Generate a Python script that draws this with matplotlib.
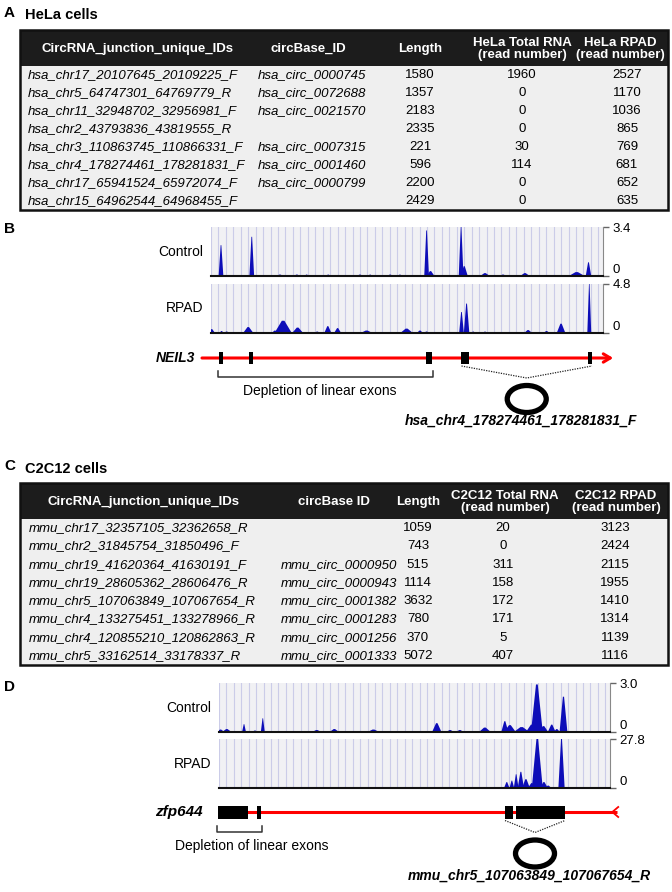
import matplotlib
matplotlib.use("Agg")
import matplotlib.pyplot as plt
from matplotlib import font_manager
from matplotlib.patches import Rectangle, Ellipse
from matplotlib.ticker import MultipleLocator

W, H = 672, 892
plt.rcParams['font.family'] = ['Liberation Sans', 'DejaVu Sans']
BLUE = '#0d0db8'

# the tables use a condensed face if one is there
have_narrow = any(f.name == 'Liberation Sans Narrow' for f in font_manager.fontManager.ttflist)
TAB_FONT = ['Liberation Sans Narrow', 'DejaVu Sans'] if have_narrow else ['Liberation Sans', 'DejaVu Sans']
TAB_SIZE = 10.8 if have_narrow else 9.5

# ---------------- Panel A table (HeLa)
hela_header = ['CircRNA_junction_unique_IDs', 'circBase_ID', 'Length',
               'HeLa Total RNA\n(read number)', 'HeLa RPAD\n(read number)']
hela_ids = ['hsa_chr17_20107645_20109225_F', 'hsa_chr5_64747301_64769779_R',
            'hsa_chr11_32948702_32956981_F', 'hsa_chr2_43793836_43819555_R',
            'hsa_chr3_110863745_110866331_F', 'hsa_chr4_178274461_178281831_F',
            'hsa_chr17_65941524_65972074_F', 'hsa_chr15_64962544_64968455_F']
hela_circbase = ['hsa_circ_0000745', 'hsa_circ_0072688', 'hsa_circ_0021570', '',
                 'hsa_circ_0007315', 'hsa_circ_0001460', 'hsa_circ_0000799', '']
hela_length = [1580, 1357, 2183, 2335, 221, 596, 2200, 2429]
hela_total = [1960, 0, 0, 0, 30, 114, 0, 0]
hela_rpad = [2527, 1170, 1036, 865, 769, 681, 652, 635]

# ---------------- Panel C table (C2C12)
c2c12_header = ['CircRNA_junction_unique_IDs', 'circBase ID', 'Length',
                'C2C12 Total RNA\n(read number)', 'C2C12 RPAD\n(read number)']
c2c12_ids = ['mmu_chr17_32357105_32362658_R', 'mmu_chr2_31845754_31850496_F',
             'mmu_chr19_41620364_41630191_F', 'mmu_chr19_28605362_28606476_R',
             'mmu_chr5_107063849_107067654_R', 'mmu_chr4_133275451_133278966_R',
             'mmu_chr4_120855210_120862863_R', 'mmu_chr5_33162514_33178337_R']
c2c12_circbase = ['', '', 'mmu_circ_0000950', 'mmu_circ_0000943', 'mmu_circ_0001382',
                  'mmu_circ_0001283', 'mmu_circ_0001256', 'mmu_circ_0001333']
c2c12_length = [1059, 743, 515, 1114, 3632, 780, 370, 5072]
c2c12_total = [20, 0, 311, 158, 172, 171, 5, 407]
c2c12_rpad = [3123, 2424, 2115, 1955, 1410, 1314, 1139, 1116]

# ---------------- Panel B coverage (position in % of locus, height, half width)
neil3_ctrl_pos = [2.55, 10.4, 55.0, 56.0, 63.8, 64.6, 4.6, 17.6, 21.9, 24.4, 29.9, 38.0,
                  40.6, 45.7, 48.2, 69.9, 74.5, 80.1, 87.3, 93.3, 96.3]
neil3_ctrl_val = [2.14, 2.72, 3.16, 0.34, 3.40, 0.68, 0.07, 0.10, 0.10, 0.10, 0.10, 0.10,
                  0.10, 0.10, 0.10, 0.20, 0.10, 0.20, 0.07, 0.27, 0.95]
neil3_ctrl_hw = [0.6, 0.6, 0.6, 1.0, 0.6, 0.9, 0.8, 0.9, 0.8, 0.6, 0.6, 0.8,
                 0.6, 0.8, 0.6, 1.2, 0.9, 1.2, 0.8, 2.0, 0.7]
neil3_rpad_pos = [0.2, 2.7, 4.0, 9.5, 16.3, 18.4, 22.1, 27.1, 29.8, 32.3, 39.7, 49.9,
                  53.3, 55.0, 63.9, 65.2, 66.9, 69.9, 80.9, 85.6, 89.3, 96.5]
neil3_rpad_val = [0.38, 0.19, 0.14, 0.58, 0.24, 1.20, 0.53, 0.14, 0.67, 0.48, 0.24, 0.43,
                  0.24, 0.14, 2.06, 2.88, 0.14, 0.14, 0.29, 0.19, 0.91, 4.80]
neil3_rpad_hw = [0.8, 0.6, 0.8, 1.3, 0.8, 2.2, 1.4, 0.8, 0.9, 0.9, 1.5, 1.6,
                 0.8, 0.8, 0.6, 0.7, 0.6, 0.6, 1.0, 0.8, 1.1, 0.5]
neil3_scale = [3.4, 4.8]
neil3_exon_start = [2.04, 9.69, 54.97, 63.9, 96.17]
neil3_exon_end = [3.06, 10.71, 56.25, 65.7, 97.19]
neil3_span = [-2.3, 102.6]
neil3_depleted = [0, 2]
neil3_circ = [3, 4]

# ---------------- Panel D coverage
zfp_ctrl_pos = [0.4, 2.0, 6.4, 9.2, 11.2, 25.0, 29.5, 39.5, 46.3, 55.7, 59.1, 61.6, 68.0,
                73.1, 74.4, 77.4, 80.0, 81.3, 83.0, 85.1, 86.4, 88.1, 93.1, 97.4]
zfp_ctrl_val = [0.15, 0.18, 0.48, 0.09, 0.84, 0.12, 0.18, 0.15, 0.06, 0.54, 0.12, 0.12, 0.27,
                0.66, 0.42, 0.30, 0.45, 2.91, 0.36, 0.45, 0.18, 2.16, 0.06, 0.06]
zfp_ctrl_hw = [1.0, 1.2, 0.5, 0.8, 0.5, 1.2, 1.2, 1.5, 1.0, 1.2, 1.0, 1.0, 1.5,
               0.9, 1.5, 2.0, 1.5, 1.5, 1.2, 1.0, 0.8, 1.0, 1.0, 1.0]
zfp_rpad_pos = [5.8, 11.2, 26.1, 73.6, 74.9, 76.0, 77.2, 78.5, 80.0, 81.4, 83.1, 84.2, 87.6, 92.3]
zfp_rpad_val = [0.28, 0.28, 0.56, 3.34, 4.17, 7.78, 9.17, 5.0, 2.78, 27.8, 3.34, 1.39, 27.8, 0.56]
zfp_rpad_hw = [0.8, 0.6, 0.8, 0.7, 0.6, 0.6, 0.8, 1.0, 1.0, 1.4, 1.0, 0.8, 0.8, 0.8]
zfp_scale = [3.0, 27.8]
zfp_exon_start = [-0.26, 9.72, 73.15, 75.96]
zfp_exon_end = [7.42, 10.74, 75.19, 88.49]
zfp_span = [-0.26, 101.8]
zfp_depleted = [0, 1]
zfp_circ = [2, 3]

fig = plt.figure(figsize=(W / 100, H / 100), dpi=100)


def px_axes(left, top, width, height):
    return fig.add_axes([left / W, 1 - (top + height) / H, width / W, height / H])


def px_text(x, y, s, **kw):
    fig.text(x / W, 1 - y / H, s, **kw)


def draw_table(top, bottom, header, ids, circbase, length, total, rpad, xs):
    ax = px_axes(20, top, 648, bottom - top)
    ax.set_xlim(20, 668)
    ax.set_ylim(bottom, top)
    ax.axis('off')
    head_bot = top + 36
    row_h = (bottom - head_bot) / len(ids)
    ax.add_patch(Rectangle((20, head_bot), 648, bottom - head_bot, fc='#efefef', ec='none'))
    ax.add_patch(Rectangle((20, top), 648, head_bot - top, fc='#1c1c1c', ec='none'))
    ax.add_patch(Rectangle((20, top), 648, bottom - top, fc='none', ec='#111111', lw=1.8,
                           clip_on=False))
    kw = dict(family=TAB_FONT, fontsize=TAB_SIZE, va='center')
    for x, h in zip(xs['head'], header):
        ax.text(x, (top + head_bot) / 2 + 1, h, color='white', fontweight='bold',
                ha='center', linespacing=1.0, **kw)
    for i in range(len(ids)):
        y = head_bot + (i + 0.5) * row_h
        ax.text(xs['id'], y, ids[i], style='italic', ha='left', **kw)
        ax.text(xs['cb'], y, circbase[i], style='italic', ha='left', **kw)
        ax.text(xs['len'], y, str(length[i]), ha='center', **kw)
        ax.text(xs['tot'], y, str(total[i]), ha='center', **kw)
        ax.text(xs['rpad'], y, str(rpad[i]), ha='center', **kw)


def draw_track(left, top, width, height, pos, val, hw, ymax, label):
    ax = px_axes(left, top, width, height)
    ax.set_facecolor('#f1f1f4')
    for c, v, w in zip(pos, val, hw):
        ax.fill([c - w, c - w * 0.15, c + w * 0.15, c + w], [0, v, v, 0], color=BLUE, lw=0)
    ax.set_xlim(0, 100)
    ax.set_ylim(0, ymax)
    ax.xaxis.set_major_locator(MultipleLocator(1.9))
    ax.grid(axis='x', color='#cbcce8', lw=0.8)
    ax.set_axisbelow(True)
    ax.tick_params(axis='x', length=0, labelbottom=False)
    ax.yaxis.tick_right()
    ax.set_yticks([0, ymax])
    ax.set_yticklabels(['0', f'{ymax:.1f}'])
    ax.tick_params(axis='y', length=4, width=1, color='#666666', labelsize=9.5, pad=3)
    ax.get_yticklabels()[0].set_va('bottom')
    for s in ['left', 'top']:
        ax.spines[s].set_visible(False)
    ax.spines['right'].set_color('#888888')
    ax.spines['bottom'].set_color('#111111')
    ax.spines['bottom'].set_linewidth(1.5)
    px_text(left - 8, top + height / 2, label, fontsize=10, ha='right', va='center')


def draw_gene(left, width, top, bottom, y, name, starts, ends, span, depleted, circ,
              arrow_right, text_dx, label_circ, ex_h, name_size):
    ax = px_axes(left, top, width, bottom - top)
    ax.set_xlim(0, 100)
    ax.set_ylim(bottom, top)
    ax.axis('off')
    if arrow_right:
        ax.annotate('', xy=(span[1], y), xytext=(span[0], y), annotation_clip=False,
                    arrowprops=dict(arrowstyle='->,head_length=0.5,head_width=0.3',
                                    color='#ff0000', lw=2.2, shrinkA=0, shrinkB=0))
    else:
        ax.plot(span, [y, y], color='#ff0000', lw=2.2, solid_capstyle='butt', clip_on=False)
        ax.plot([span[1] + 0.3, span[1] - 1.2, span[1] + 0.3], [y - 5, y, y + 5],
                color='#ff0000', lw=1.3, clip_on=False)
    for s, e in zip(starts, ends):
        ax.add_patch(Rectangle((s, y - ex_h / 2), e - s, ex_h, fc='black', ec='none',
                               clip_on=False, zorder=3))
    b0 = starts[depleted[0]] - 0.3
    b1 = ends[depleted[1]] + 0.3
    yb = y + ex_h / 2 + 13
    ax.plot([b0, b0, b1, b1], [yb - 6, yb, yb, yb - 6], color='#333333', lw=1.1,
            clip_on=False)
    ax.text((b0 + b1) / 2 + text_dx, yb + 14, 'Depletion of linear exons', fontsize=10,
            ha='center', va='center')
    c0 = starts[circ[0]]
    c1 = ends[circ[1]]
    cm = (c0 + c1) / 2
    ax.plot([c0, cm, c1], [y + ex_h / 2 + 2, yb + 1, y + ex_h / 2 + 2], color='#222222',
            lw=0.9, ls=(0, (1, 1)), clip_on=False)
    ax.add_patch(Ellipse((cm, yb + 22), 39 / width * 100, 27, fc='none', ec='black',
                         lw=3.8, clip_on=False))
    ax.text(cm - 1.5, yb + 44, label_circ, fontsize=10, fontweight='bold', style='italic',
            ha='center', va='center')
    px_text(left - 16, y, name, fontsize=name_size, fontweight='bold', style='italic',
            ha='right', va='center')


# Panel A
px_text(4, 13, 'A', fontsize=11, fontweight='bold', ha='left', va='center')
px_text(25, 15, 'HeLa cells', fontsize=10.5, fontweight='bold', ha='left', va='center')
draw_table(30, 210, hela_header, hela_ids, hela_circbase, hela_length, hela_total, hela_rpad,
           dict(head=[138, 308, 420, 522, 620], id=28, cb=258, len=420, tot=522, rpad=627))

# Panel B
px_text(4, 229, 'B', fontsize=11, fontweight='bold', ha='left', va='center')
draw_track(211, 227, 392, 49, neil3_ctrl_pos, neil3_ctrl_val, neil3_ctrl_hw,
           neil3_scale[0], 'Control')
draw_track(211, 284, 392, 49, neil3_rpad_pos, neil3_rpad_val, neil3_rpad_hw,
           neil3_scale[1], 'RPAD')
draw_gene(211, 392, 340, 440, 358, 'NEIL3', neil3_exon_start, neil3_exon_end, neil3_span,
          neil3_depleted, neil3_circ, True, -1.3, 'hsa_chr4_178274461_178281831_F', 12, 10)

# Panel C
px_text(4, 466, 'C', fontsize=11, fontweight='bold', ha='left', va='center')
px_text(25, 469, 'C2C12 cells', fontsize=10.5, fontweight='bold', ha='left', va='center')
draw_table(483, 665, c2c12_header, c2c12_ids, c2c12_circbase, c2c12_length, c2c12_total,
           c2c12_rpad,
           dict(head=[143, 334, 418, 505, 616], id=29, cb=281, len=418, tot=503, rpad=615))

# Panel D
px_text(4, 687, 'D', fontsize=11, fontweight='bold', ha='left', va='center')
draw_track(219, 683, 391, 49, zfp_ctrl_pos, zfp_ctrl_val, zfp_ctrl_hw,
           zfp_scale[0], 'Control')
draw_track(219, 739, 391, 49, zfp_rpad_pos, zfp_rpad_val, zfp_rpad_hw,
           zfp_scale[1], 'RPAD')
draw_gene(219, 391, 795, 892, 812, 'zfp644', zfp_exon_start, zfp_exon_end, zfp_span,
          zfp_depleted, zfp_circ, False, 3.2, 'mmu_chr5_107063849_107067654_R', 13, 11)

fig.savefig('out.png', dpi=100)
